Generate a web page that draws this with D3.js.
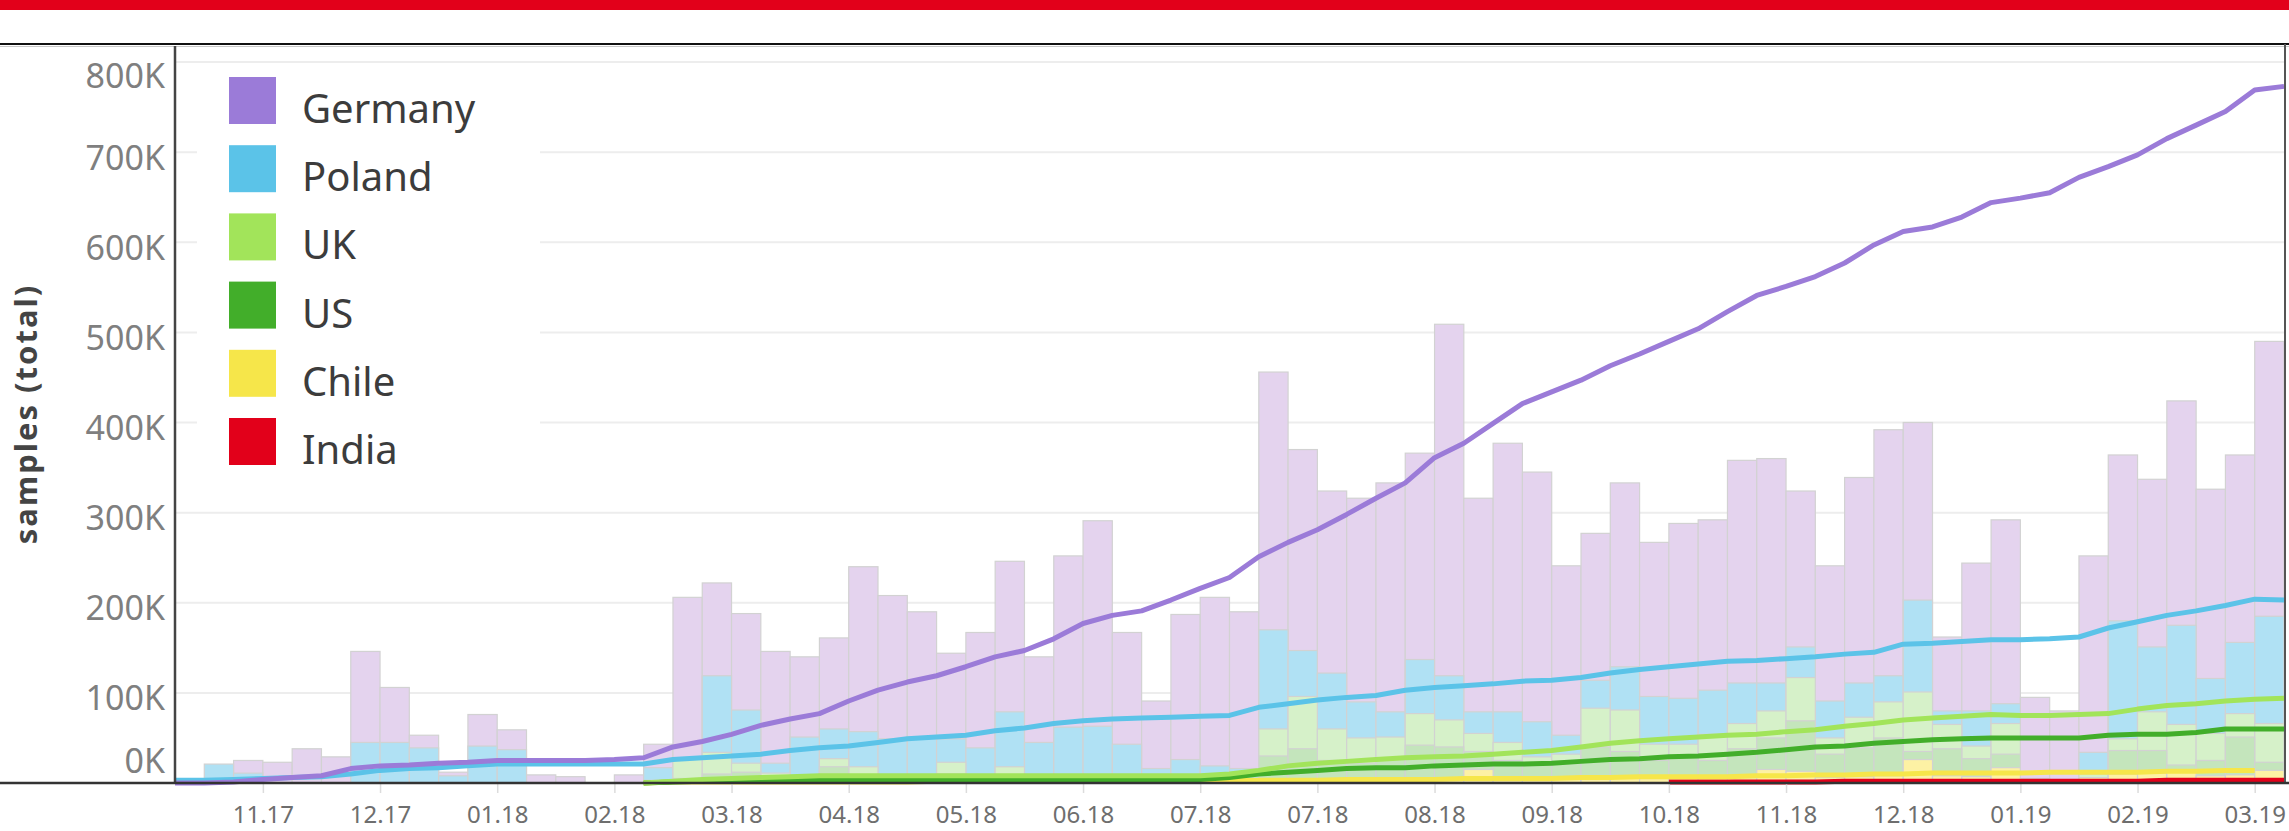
<!DOCTYPE html>
<html>
<head>
  <meta charset="utf-8">
  <title>samples (total)</title>
  <script src="https://cdn.jsdelivr.net/npm/d3@7"></script>
  <style>
    body { margin: 0; background: #fff; }
    text { font-family: "Noto Sans", sans-serif; }
  </style>
</head>
<body>
<script>

var countries = ["Germany", "Poland", "UK", "US", "Chile", "India"];
var lineColors = ["#9b7bd8", "#5bc3e8", "#a2e45a", "#42ae2a", "#f6e64a", "#e2001a"];
var barColors  = ["#e4d3ee", "#b0e1f4", "#d6f1c9", "#c4e5bc", "#fdf1a4", "#f4a6ae"];

// month labels, one every 4 weeks
var tickLabels = ["11.17","12.17","01.18","02.18","03.18","04.18","05.18","06.18","07.18",
                  "07.18","08.18","09.18","10.18","11.18","12.18","01.19","02.19","03.19"];
var tickWeeks = [3,7,11,15,19,23,27,31,35,39,43,47,51,55,59,63,67,71];

// weekly samples (K), 72 weeks
var barsGermany = [0,0,25,23,38,29,146,106,53,12,76,59,9,7,0,9,43,206,
  222,188,146,140,161,240,208,190,144,167,246,140,252,291,167,91,187,206,
  190,456,370,324,316,333,366,509,316,377,345,241,277,333,267,288,292,358,
  360,324,241,339,392,400,162,244,292,95,80,252,364,337,424,326,364,490];
var barsPoland = [0,21,11,0,0,0,45,45,39,8,41,37,0,0,0,0,17,15,
  119,81,22,51,60,57,49,51,49,39,79,45,62,63,43,16,26,19,
  16,170,147,122,90,79,137,119,79,79,68,53,114,129,96,94,103,111,
  111,151,91,111,119,203,80,80,88,5,0,34,180,151,175,116,156,185];
var barsUK = [0,0,0,0,0,0,0,0,0,0,0,0,0,0,0,0,3,28,
  34,22,11,5,27,18,4,3,23,5,18,3,3,3,3,3,3,5,
  5,60,96,60,50,51,77,70,55,45,29,32,83,81,43,43,54,66,
  80,117,50,73,90,101,65,41,66,3,3,10,49,79,65,55,77,66];
var barsUS = [0,0,0,0,0,0,0,0,0,0,0,0,0,0,0,0,0,5,
  10,12,4,3,18,8,3,2,10,2,5,2,2,2,2,2,2,2,
  2,30,38,25,22,28,42,40,35,25,20,22,40,35,25,30,25,38,
  50,69,32,39,50,35,38,27,32,2,2,5,36,36,20,25,51,23];
var barsChile = [0,0,0,0,0,0,0,0,0,0,0,0,0,0,0,0,0,0,
  0,0,0,2,2,2,2,2,2,2,2,2,2,2,2,2,2,2,
  3,4,4,3,3,4,5,4,15,5,4,4,5,6,5,6,5,6,
  15,13,6,7,8,26,8,7,17,4,3,6,10,11,12,8,9,14];
var barsIndia = [0,0,0,0,0,0,0,0,0,0,0,0,0,0,0,0,0,0,
  0,0,0,0,0,0,0,0,0,0,0,0,0,0,0,0,0,0,
  0,0,0,0,0,0,0,0,0,0,0,0,0,0,0,2,2,2,
  2,3,2,2,3,3,2,2,3,1,1,2,3,3,3,2,3,3];

// running totals (K), 73 points on the week boundaries
var lineGermany = [0,0,1,4,6,8,16,19,20,22,23,25,25,25,25,26,28,40,
  46,54,64,71,77,91,103,112,119,129,140,147,160,177,186,191,203,216,
  228,251,267,281,298,316,333,361,377,399,421,434,447,463,476,490,504,523,
  541,551,562,577,597,612,617,628,644,649,655,672,684,697,715,730,745,769,773];
var linePoland = [3,3,4,5,6,7,10,14,16,17,19,21,21,21,21,21,21,26,
  28,30,32,36,39,41,45,49,51,53,58,61,66,69,71,72,73,74,
  75,84,88,92,95,97,103,106,108,110,113,114,117,122,126,129,132,135,
  136,138,140,143,145,154,155,157,159,159,160,162,172,179,186,191,197,204,203];
var lineUK = [null,null,null,null,null,null,null,null,null,null,null,null,null,null,null,null,0,2,
  4,5,6,7,8,8,8,8,8,8,8,8,8,8,8,8,8,8,
  10,14,19,22,24,26,28,29,30,32,34,36,40,44,47,49,51,53,
  54,57,59,63,66,70,72,74,76,75,75,76,77,82,86,88,91,93,94];
var lineUS = [null,null,null,null,null,null,null,null,null,null,null,null,null,null,null,null,0,1,
  2,2,3,3,3,3,3,3,3,4,4,4,4,4,4,4,4,4,
  6,10,12,14,16,17,17,19,20,21,21,22,24,26,27,29,30,32,
  34,37,40,41,44,46,48,49,50,50,50,50,53,54,54,56,60,60,60];
var lineChile = [null,null,null,null,null,null,null,null,null,null,null,null,null,null,null,null,0,1,
  1,1,1,1,1,1,1,1,2,2,2,2,2,2,2,2,2,2,
  3,3,3,3,4,4,4,4,5,5,5,5,6,6,7,7,7,7,
  8,8,9,9,10,10,11,11,11,11,12,12,12,12,13,13,14,14,null];
var lineIndia = [null,null,null,null,null,null,null,null,null,null,null,null,null,null,null,null,null,null,
  null,null,null,null,null,null,null,null,null,null,null,null,null,null,null,null,null,null,
  null,null,null,null,null,null,null,null,null,null,null,null,null,null,null,1,1,1,
  1,1,1,2,2,2,2,2,2,2,2,2,2,2,3,3,3,3,3];

var yTicks = [0,100,200,300,400,500,600,700,800];

var barSeries = [barsGermany, barsPoland, barsUK, barsUS, barsChile, barsIndia];
var lineSeries = [lineGermany, linePoland, lineUK, lineUS, lineChile, lineIndia];

var W = 2289, H = 831;
var margin = {top: 44, right: 5, bottom: 48, left: 175};
var x0 = margin.left, x1 = W - margin.right;
var yTop = margin.top, yBase = H - margin.bottom;

var svg = d3.select("body").append("svg")
    .attr("width", W)
    .attr("height", H);

// red band at the very top
svg.append("rect").attr("x", 0).attr("y", 0).attr("width", W).attr("height", 10)
    .attr("fill", "#e2001a");

var xBand = d3.scaleBand()
    .domain(d3.range(barsGermany.length))
    .range([x0, x1])
    .paddingInner(0).paddingOuter(0);

var xLine = d3.scaleLinear()
    .domain([0, barsGermany.length])
    .range([x0, x1]);

var y = d3.scaleLinear()
    .domain([0, 820])
    .range([yBase, yTop]);

// gridlines
svg.append("g")
    .selectAll("line")
    .data(yTicks.filter(function(d){ return d > 0; }))
    .enter().append("line")
    .attr("x1", x0).attr("x2", x1)
    .attr("y1", function(d){ return y(d); })
    .attr("y2", function(d){ return y(d); })
    .attr("stroke", "#ededed")
    .attr("stroke-width", 2);

// bars, each country drawn from the baseline, Germany at the back
var barG = svg.append("g");
barSeries.forEach(function(vals, s){
  barG.append("g")
    .selectAll("rect")
    .data(vals.map(function(v, i){ return {i: i, v: v}; }).filter(function(d){ return d.v > 0; }))
    .enter().append("rect")
    .attr("x", function(d){ return xBand(d.i); })
    .attr("y", function(d){ return y(d.v); })
    .attr("width", xBand.bandwidth())
    .attr("height", function(d){ return yBase - y(d.v); })
    .attr("fill", barColors[s])
    .attr("stroke", "#d2d2d2")
    .attr("stroke-width", 1.2);
});

// lines
var line = d3.line()
    .defined(function(d){ return d.v != null; })
    .x(function(d){ return xLine(d.i); })
    .y(function(d){ return y(d.v); });

var lineOrder = [5, 4, 3, 2, 1, 0];
lineOrder.forEach(function(s){
  svg.append("path")
    .datum(lineSeries[s].map(function(v, i){ return {i: i, v: v}; }))
    .attr("d", line)
    .attr("fill", "none")
    .attr("stroke", lineColors[s])
    .attr("stroke-width", 5)
    .attr("stroke-linejoin", "round");
});

// frame
svg.append("line").attr("x1", 0).attr("x2", W).attr("y1", 44).attr("y2", 44)
    .attr("stroke", "#111").attr("stroke-width", 2);
svg.append("line").attr("x1", 0).attr("x2", W).attr("y1", 46.5).attr("y2", 46.5)
    .attr("stroke", "#c8c8c8").attr("stroke-width", 1);
svg.append("line").attr("x1", x1 + 1).attr("x2", x1 + 1).attr("y1", 44).attr("y2", yBase)
    .attr("stroke", "#555").attr("stroke-width", 2);

// y axis
var yAxis = svg.append("g")
    .attr("transform", "translate(" + x0 + ",0)")
    .call(d3.axisLeft(y).tickValues(yTicks).tickSize(0).tickPadding(10)
      .tickFormat(function(d){ return d + "K"; }));
yAxis.select(".domain").attr("stroke", "#444").attr("stroke-width", 2.5)
    .attr("d", "M0," + (yTop + 2) + "V" + yBase);
yAxis.selectAll("text")
    .attr("fill", "#7f7f7f")
    .style("font-size", "34px")
    .attr("dy", function(d){
      if (d === 800) return "0.75em";
      if (d === 0) return "-0.3em";
      return "0.5em";
    });

// x axis
var xAxis = svg.append("g")
    .attr("transform", "translate(0," + yBase + ")")
    .call(d3.axisBottom(xLine).tickValues(tickWeeks).tickSize(10).tickPadding(13)
      .tickFormat(function(d, i){ return tickLabels[i]; }));
xAxis.select(".domain").remove();
xAxis.selectAll(".tick line").attr("stroke", "#dcdcdc").attr("stroke-width", 1.5);
xAxis.selectAll("text")
    .attr("fill", "#6e6e6e")
    .style("font-size", "24px");

// baseline across the whole width
svg.append("line").attr("x1", 0).attr("x2", W).attr("y1", yBase).attr("y2", yBase)
    .attr("stroke", "#333").attr("stroke-width", 2.5);

// y title
svg.append("text")
    .attr("transform", "translate(37," + 414 + ") rotate(-90)")
    .attr("text-anchor", "middle")
    .attr("fill", "#444")
    .style("font-size", "31px")
    .style("font-weight", "bold")
    .style("letter-spacing", "2px")
    .text("samples (total)");

// legend
var legend = svg.append("g");
legend.append("rect")
    .attr("x", 197).attr("y", 66).attr("width", 343).attr("height", 412)
    .attr("fill", "#fff");
var item = legend.selectAll(".item")
    .data(countries)
    .enter().append("g")
    .attr("class", "item")
    .attr("transform", function(d, i){ return "translate(229," + (77 + i * 68.2) + ")"; });
item.append("rect")
    .attr("width", 47).attr("height", 47)
    .attr("fill", function(d, i){ return lineColors[i]; });
item.append("text")
    .attr("x", 73).attr("y", 46)
    .attr("fill", "#3c3c3c")
    .style("font-size", "40px")
    .text(function(d){ return d; });

</script>
</body>
</html>
